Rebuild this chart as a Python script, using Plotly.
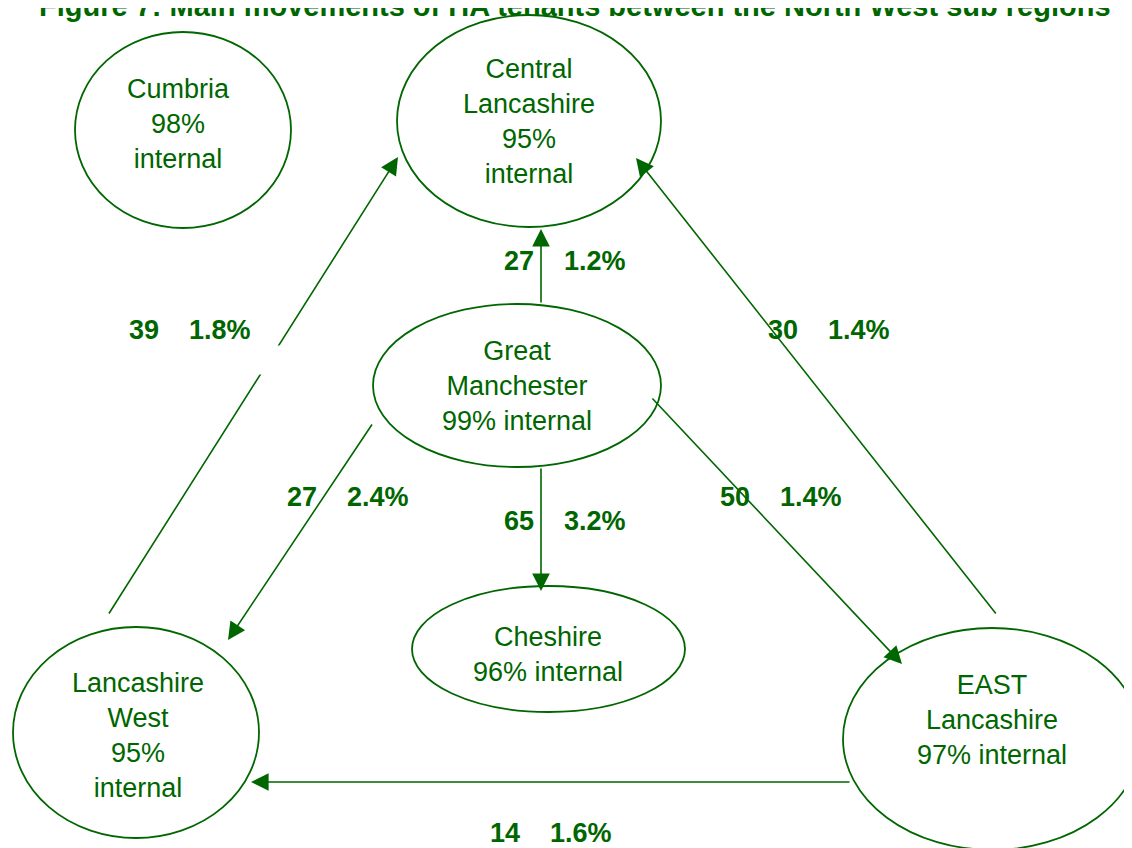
import plotly.graph_objects as go

# regions and their share of moves that stayed inside the sub region
regions = ["Cumbria", "Central Lancashire", "Great Manchester", "Cheshire",
           "Lancashire West", "EAST Lancashire"]
internal_pct = [98, 95, 99, 96, 95, 97]

# main moves between sub regions
flow_from = ["Great Manchester", "Lancashire West", "EAST Lancashire", "Great Manchester",
             "Great Manchester", "Great Manchester", "EAST Lancashire"]
flow_to = ["Central Lancashire", "Central Lancashire", "Central Lancashire", "Lancashire West",
           "Cheshire", "EAST Lancashire", "Lancashire West"]
flow_count = [27, 39, 30, 27, 65, 50, 14]
flow_share = [1.2, 1.8, 1.4, 2.4, 3.2, 1.4, 1.6]

TITLE = "Figure 7: Main movements of HA tenants between the North West sub regions"

GREEN = "#006600"
FONT = "Liberation Sans, Arial, sans-serif"
W, H = 1132, 848
OFF = 8  # page body margin, so axis units match page pixels

# ellipse box (x0, y0, x1, y1), text centre, split "xx%" and "internal"
node_layout = {
    "Cumbria": ((75, 32, 291, 228), (178, 124), True),
    "Central Lancashire": ((397, 15, 661, 227), (529, 121), True),
    "Great Manchester": ((373, 304, 661, 467), (517, 386), False),
    "Cheshire": ((412, 586, 685, 712), (548, 654), False),
    "Lancashire West": ((13, 627, 259, 838), (138, 735), True),
    "EAST Lancashire": ((843, 628, 1141, 850), (992, 720), False),
}

# arrow tail, arrow tip, label centre
flow_layout = [
    ((541, 304), (541, 229), (565, 261)),
    ((108, 615), (398, 157), (190, 330)),
    ((997, 615), (636, 158), (829, 330)),
    ((373, 423), (228, 640), (348, 497)),
    ((541, 467), (541, 591), (565, 521)),
    ((651, 397), (902, 664), (781, 497)),
    ((851, 782), (251, 782), (551, 833)),
]

fig = go.Figure(go.Scatter(x=[], y=[], hoverinfo="skip", showlegend=False))

for name, pct in zip(regions, internal_pct):
    box, (tx, ty), split = node_layout[name]
    lines = name.split(" ")
    if split:
        lines += [f"{pct}%", "internal"]
    else:
        lines += [f"{pct}% internal"]
    fig.add_shape(
        type="circle", xref="x", yref="y",
        x0=box[0], y0=box[1], x1=box[2], y1=box[3],
        line=dict(color=GREEN, width=1.8), fillcolor="rgba(0,0,0,0)",
    )
    fig.add_annotation(
        x=tx, y=ty, xref="x", yref="y", text="<br>".join(lines),
        showarrow=False, font=dict(family=FONT, size=27, color=GREEN),
    )

for src, dst, cnt, share, (tail, tip, lab) in zip(
    flow_from, flow_to, flow_count, flow_share, flow_layout
):
    fig.add_annotation(
        x=tip[0], y=tip[1], ax=tail[0], ay=tail[1],
        xref="x", yref="y", axref="x", ayref="y",
        text="", showarrow=True, arrowhead=2, arrowsize=2.2,
        arrowwidth=1.6, arrowcolor=GREEN,
    )
    fig.add_annotation(
        x=lab[0], y=lab[1], xref="x", yref="y",
        text=f"<b>{cnt}" + "\u00a0" * 4 + f"{share}%</b>",
        showarrow=False, font=dict(family=FONT, size=27, color=GREEN),
    )

# white text box from the original that breaks the long left arrow
fig.add_annotation(
    x=270, y=360, xref="x", yref="y", text=" ", showarrow=False,
    width=34, height=26, bgcolor="white",
)

# title sits partly above the page top, as in the source
fig.add_annotation(
    x=575, y=24, xref="x", yref="y", yanchor="bottom",
    text=f"<b>{TITLE}</b>", showarrow=False,
    font=dict(family=FONT, size=29, color=GREEN),
)

fig.update_xaxes(range=[OFF, W + OFF], visible=False, fixedrange=True)
fig.update_yaxes(range=[H + OFF, OFF], visible=False, fixedrange=True)
fig.update_layout(
    width=W, height=H,
    margin=dict(l=0, r=0, t=0, b=0),
    paper_bgcolor="white", plot_bgcolor="white",
    showlegend=False,
)

fig.write_html("out.html")
